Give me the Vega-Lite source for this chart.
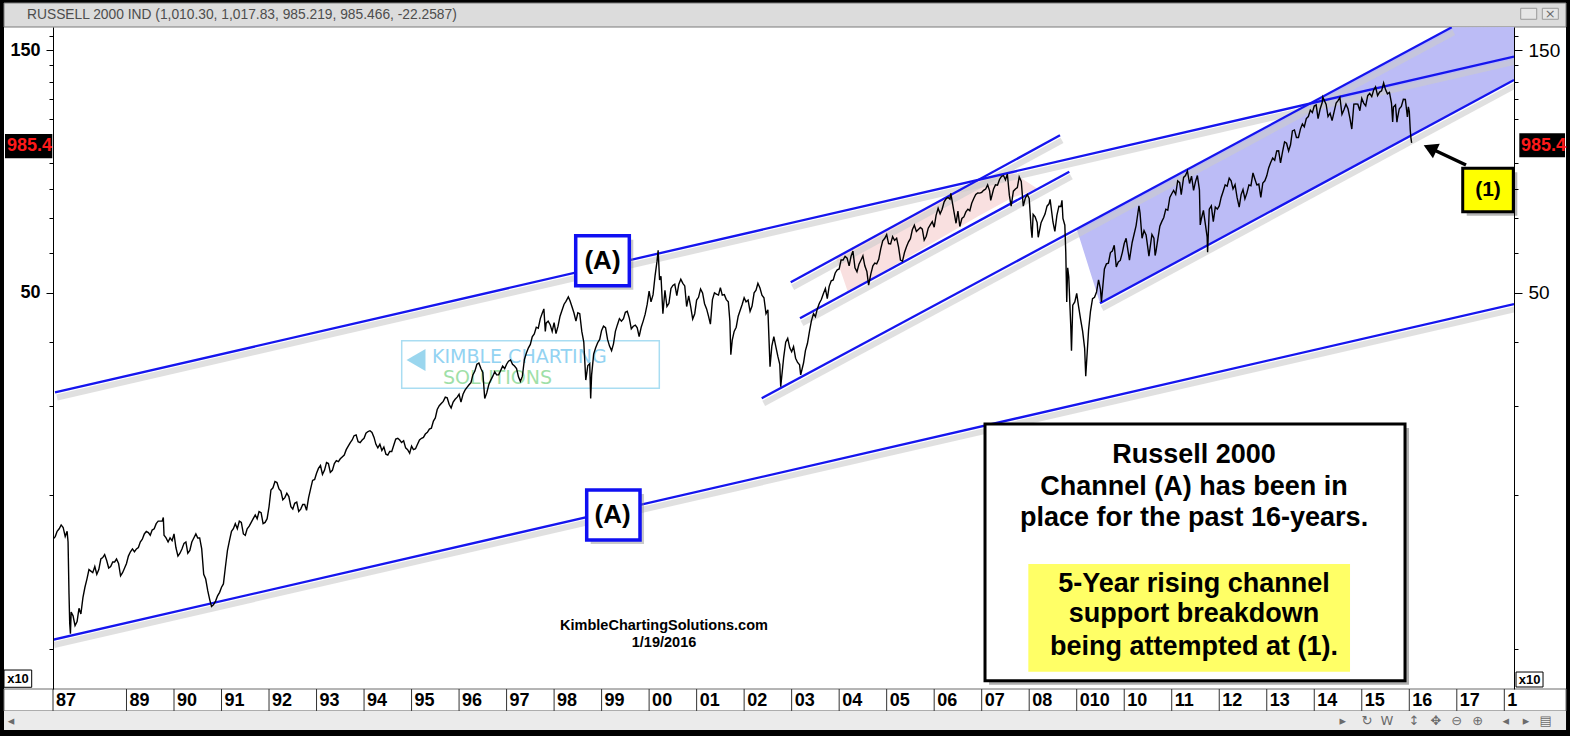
{
"$schema":"https://vega.github.io/schema/vega-lite/v6.json",
"autosize":{"type":"none"},
"width":1461,"height":662,
"padding":{"left":53,"top":27,"right":56,"bottom":47},
"background":"#000000",
"config":{"view":{"stroke":null},"axis":{"zindex":1,"grid":false}},
"datasets":{
"price":[
{"t":1987.45,"v":164},{"t":1987.5,"v":166},{"t":1987.54,"v":170},{"t":1987.583,"v":172},{"t":1987.625,"v":175},{"t":1987.667,"v":173},{"t":1987.71,"v":166},{"t":1987.75,"v":170},{"t":1987.77,"v":162},{"t":1987.79,"v":128},{"t":1987.805,"v":112},{"t":1987.82,"v":107},{"t":1987.835,"v":118},{"t":1987.875,"v":116},{"t":1987.917,"v":111},{"t":1987.96,"v":113},
{"t":1988.0,"v":120},{"t":1988.04,"v":117},{"t":1988.083,"v":126},{"t":1988.125,"v":132},{"t":1988.167,"v":137},{"t":1988.21,"v":143},{"t":1988.25,"v":142},{"t":1988.29,"v":141},{"t":1988.333,"v":145},{"t":1988.375,"v":140},{"t":1988.417,"v":143},{"t":1988.46,"v":150},{"t":1988.5,"v":151},{"t":1988.54,"v":153},{"t":1988.583,"v":149},{"t":1988.625,"v":144},{"t":1988.667,"v":145},{"t":1988.71,"v":148},{"t":1988.75,"v":148},{"t":1988.79,"v":150},{"t":1988.833,"v":147},{"t":1988.875,"v":139},{"t":1988.917,"v":141},{"t":1988.96,"v":144},
{"t":1989.0,"v":147},{"t":1989.04,"v":152},{"t":1989.083,"v":155},{"t":1989.125,"v":157},{"t":1989.167,"v":155},{"t":1989.21,"v":157},{"t":1989.25,"v":158},{"t":1989.29,"v":162},{"t":1989.333,"v":164},{"t":1989.375,"v":168},{"t":1989.417,"v":170},{"t":1989.46,"v":169},{"t":1989.5,"v":167},{"t":1989.54,"v":171},{"t":1989.583,"v":172},{"t":1989.625,"v":176},{"t":1989.667,"v":178},{"t":1989.71,"v":178},{"t":1989.75,"v":178},{"t":1989.775,"v":181},{"t":1989.79,"v":167},{"t":1989.833,"v":165},{"t":1989.875,"v":162},{"t":1989.917,"v":165},{"t":1989.96,"v":163},
{"t":1990.0,"v":168},{"t":1990.04,"v":158},{"t":1990.083,"v":152},{"t":1990.125,"v":154},{"t":1990.167,"v":157},{"t":1990.21,"v":161},{"t":1990.25,"v":162},{"t":1990.29,"v":154},{"t":1990.333,"v":156},{"t":1990.375,"v":162},{"t":1990.417,"v":165},{"t":1990.46,"v":168},{"t":1990.5,"v":165},{"t":1990.54,"v":165},{"t":1990.583,"v":157},{"t":1990.625,"v":140},{"t":1990.667,"v":137},{"t":1990.71,"v":130},{"t":1990.75,"v":125},{"t":1990.79,"v":121},{"t":1990.833,"v":122},{"t":1990.875,"v":124},{"t":1990.917,"v":127},{"t":1990.96,"v":129},
{"t":1991.0,"v":132},{"t":1991.04,"v":134},{"t":1991.083,"v":145},{"t":1991.125,"v":156},{"t":1991.167,"v":163},{"t":1991.21,"v":170},{"t":1991.25,"v":172},{"t":1991.29,"v":176},{"t":1991.333,"v":172},{"t":1991.375,"v":178},{"t":1991.417,"v":177},{"t":1991.46,"v":168},{"t":1991.5,"v":167},{"t":1991.54,"v":172},{"t":1991.583,"v":174},{"t":1991.625,"v":177},{"t":1991.667,"v":180},{"t":1991.71,"v":183},{"t":1991.75,"v":180},{"t":1991.79,"v":186},{"t":1991.833,"v":185},{"t":1991.875,"v":176},{"t":1991.917,"v":177},{"t":1991.96,"v":180},
{"t":1992.0,"v":190},{"t":1992.04,"v":205},{"t":1992.083,"v":207},{"t":1992.125,"v":213},{"t":1992.167,"v":212},{"t":1992.21,"v":206},{"t":1992.25,"v":204},{"t":1992.29,"v":196},{"t":1992.333,"v":198},{"t":1992.375,"v":202},{"t":1992.417,"v":199},{"t":1992.46,"v":190},{"t":1992.5,"v":188},{"t":1992.54,"v":193},{"t":1992.583,"v":194},{"t":1992.625,"v":186},{"t":1992.667,"v":188},{"t":1992.71,"v":192},{"t":1992.75,"v":192},{"t":1992.79,"v":187},{"t":1992.833,"v":198},{"t":1992.875,"v":206},{"t":1992.917,"v":214},{"t":1992.96,"v":215},
{"t":1993.0,"v":221},{"t":1993.04,"v":226},{"t":1993.083,"v":229},{"t":1993.125,"v":220},{"t":1993.167,"v":224},{"t":1993.21,"v":232},{"t":1993.25,"v":231},{"t":1993.29,"v":222},{"t":1993.333,"v":224},{"t":1993.375,"v":231},{"t":1993.417,"v":234},{"t":1993.46,"v":233},{"t":1993.5,"v":236},{"t":1993.54,"v":238},{"t":1993.583,"v":240},{"t":1993.625,"v":246},{"t":1993.667,"v":250},{"t":1993.71,"v":254},{"t":1993.75,"v":257},{"t":1993.79,"v":262},{"t":1993.833,"v":263},{"t":1993.875,"v":255},{"t":1993.917,"v":254},{"t":1993.96,"v":257},
{"t":1994.0,"v":259},{"t":1994.04,"v":265},{"t":1994.083,"v":267},{"t":1994.125,"v":268},{"t":1994.167,"v":266},{"t":1994.21,"v":260},{"t":1994.25,"v":252},{"t":1994.29,"v":248},{"t":1994.333,"v":252},{"t":1994.375,"v":245},{"t":1994.417,"v":249},{"t":1994.46,"v":241},{"t":1994.5,"v":240},{"t":1994.54,"v":244},{"t":1994.583,"v":244},{"t":1994.625,"v":251},{"t":1994.667,"v":258},{"t":1994.71,"v":259},{"t":1994.75,"v":257},{"t":1994.79,"v":254},{"t":1994.833,"v":256},{"t":1994.875,"v":248},{"t":1994.917,"v":246},{"t":1994.96,"v":242},
{"t":1995.0,"v":250},{"t":1995.04,"v":246},{"t":1995.083,"v":247},{"t":1995.125,"v":252},{"t":1995.167,"v":257},{"t":1995.21,"v":259},{"t":1995.25,"v":260},{"t":1995.29,"v":264},{"t":1995.333,"v":266},{"t":1995.375,"v":270},{"t":1995.417,"v":271},{"t":1995.46,"v":280},{"t":1995.5,"v":284},{"t":1995.54,"v":295},{"t":1995.583,"v":300},{"t":1995.625,"v":303},{"t":1995.667,"v":306},{"t":1995.71,"v":312},{"t":1995.75,"v":311},{"t":1995.79,"v":302},{"t":1995.833,"v":297},{"t":1995.875,"v":305},{"t":1995.917,"v":309},{"t":1995.96,"v":312},
{"t":1996.0,"v":316},{"t":1996.04,"v":305},{"t":1996.083,"v":316},{"t":1996.125,"v":322},{"t":1996.167,"v":326},{"t":1996.21,"v":330},{"t":1996.25,"v":333},{"t":1996.29,"v":345},{"t":1996.333,"v":351},{"t":1996.375,"v":362},{"t":1996.417,"v":364},{"t":1996.46,"v":355},{"t":1996.5,"v":349},{"t":1996.54,"v":310},{"t":1996.583,"v":318},{"t":1996.625,"v":330},{"t":1996.667,"v":337},{"t":1996.71,"v":343},{"t":1996.75,"v":350},{"t":1996.79,"v":345},{"t":1996.833,"v":345},{"t":1996.875,"v":352},{"t":1996.917,"v":359},{"t":1996.96,"v":355},
{"t":1997.0,"v":362},{"t":1997.04,"v":367},{"t":1997.083,"v":369},{"t":1997.125,"v":362},{"t":1997.167,"v":359},{"t":1997.21,"v":355},{"t":1997.25,"v":342},{"t":1997.29,"v":335},{"t":1997.333,"v":343},{"t":1997.375,"v":370},{"t":1997.417,"v":381},{"t":1997.46,"v":390},{"t":1997.5,"v":396},{"t":1997.54,"v":410},{"t":1997.583,"v":415},{"t":1997.625,"v":428},{"t":1997.667,"v":426},{"t":1997.71,"v":445},{"t":1997.75,"v":456},{"t":1997.785,"v":465},{"t":1997.815,"v":420},{"t":1997.833,"v":436},{"t":1997.875,"v":440},{"t":1997.917,"v":433},{"t":1997.96,"v":420},
{"t":1998.0,"v":437},{"t":1998.04,"v":416},{"t":1998.083,"v":430},{"t":1998.125,"v":450},{"t":1998.167,"v":462},{"t":1998.21,"v":475},{"t":1998.25,"v":481},{"t":1998.3,"v":491},{"t":1998.333,"v":483},{"t":1998.375,"v":470},{"t":1998.417,"v":457},{"t":1998.46,"v":440},{"t":1998.5,"v":457},{"t":1998.54,"v":455},{"t":1998.583,"v":420},{"t":1998.625,"v":400},{"t":1998.667,"v":337},{"t":1998.71,"v":360},{"t":1998.75,"v":363},{"t":1998.77,"v":310},{"t":1998.79,"v":345},{"t":1998.833,"v":379},{"t":1998.875,"v":390},{"t":1998.917,"v":399},{"t":1998.96,"v":405},
{"t":1999.0,"v":422},{"t":1999.04,"v":430},{"t":1999.083,"v":427},{"t":1999.125,"v":405},{"t":1999.167,"v":393},{"t":1999.21,"v":385},{"t":1999.25,"v":397},{"t":1999.29,"v":420},{"t":1999.333,"v":433},{"t":1999.375,"v":445},{"t":1999.417,"v":440},{"t":1999.46,"v":445},{"t":1999.5,"v":458},{"t":1999.54,"v":460},{"t":1999.583,"v":446},{"t":1999.625,"v":425},{"t":1999.667,"v":430},{"t":1999.71,"v":432},{"t":1999.75,"v":427},{"t":1999.79,"v":410},{"t":1999.833,"v":428},{"t":1999.875,"v":440},{"t":1999.917,"v":454},{"t":1999.96,"v":475},
{"t":2000.0,"v":504},{"t":2000.04,"v":480},{"t":2000.083,"v":496},{"t":2000.125,"v":540},{"t":2000.167,"v":577},{"t":2000.19,"v":606},{"t":2000.22,"v":530},{"t":2000.25,"v":539},{"t":2000.29,"v":455},{"t":2000.333,"v":506},{"t":2000.375,"v":470},{"t":2000.417,"v":477},{"t":2000.46,"v":510},{"t":2000.5,"v":517},{"t":2000.54,"v":520},{"t":2000.583,"v":494},{"t":2000.625,"v":520},{"t":2000.667,"v":532},{"t":2000.71,"v":522},{"t":2000.75,"v":516},{"t":2000.79,"v":470},{"t":2000.833,"v":493},{"t":2000.875,"v":470},{"t":2000.917,"v":444},{"t":2000.96,"v":455},
{"t":2001.0,"v":484},{"t":2001.04,"v":490},{"t":2001.083,"v":509},{"t":2001.125,"v":500},{"t":2001.167,"v":476},{"t":2001.21,"v":465},{"t":2001.25,"v":450},{"t":2001.29,"v":434},{"t":2001.333,"v":485},{"t":2001.375,"v":500},{"t":2001.417,"v":497},{"t":2001.46,"v":495},{"t":2001.5,"v":512},{"t":2001.54,"v":495},{"t":2001.583,"v":496},{"t":2001.625,"v":485},{"t":2001.667,"v":480},{"t":2001.7,"v":440},{"t":2001.72,"v":378},{"t":2001.75,"v":404},{"t":2001.79,"v":420},{"t":2001.833,"v":428},{"t":2001.875,"v":450},{"t":2001.917,"v":462},{"t":2001.96,"v":475},
{"t":2002.0,"v":489},{"t":2002.04,"v":480},{"t":2002.083,"v":484},{"t":2002.125,"v":460},{"t":2002.167,"v":471},{"t":2002.21,"v":500},{"t":2002.25,"v":506},{"t":2002.29,"v":522},{"t":2002.333,"v":511},{"t":2002.375,"v":495},{"t":2002.417,"v":489},{"t":2002.46,"v":455},{"t":2002.5,"v":463},{"t":2002.545,"v":358},{"t":2002.583,"v":393},{"t":2002.625,"v":410},{"t":2002.667,"v":392},{"t":2002.71,"v":375},{"t":2002.75,"v":362},{"t":2002.77,"v":327},{"t":2002.833,"v":374},{"t":2002.875,"v":400},{"t":2002.917,"v":407},{"t":2002.96,"v":390},
{"t":2003.0,"v":383},{"t":2003.04,"v":392},{"t":2003.083,"v":372},{"t":2003.125,"v":365},{"t":2003.167,"v":361},{"t":2003.19,"v":345},{"t":2003.25,"v":364},{"t":2003.29,"v":385},{"t":2003.333,"v":398},{"t":2003.375,"v":420},{"t":2003.417,"v":441},{"t":2003.46,"v":455},{"t":2003.5,"v":449},{"t":2003.54,"v":465},{"t":2003.583,"v":477},{"t":2003.625,"v":485},{"t":2003.667,"v":498},{"t":2003.71,"v":510},{"t":2003.75,"v":487},{"t":2003.79,"v":515},{"t":2003.833,"v":528},{"t":2003.875,"v":530},{"t":2003.917,"v":547},{"t":2003.96,"v":555},
{"t":2004.0,"v":557},{"t":2004.04,"v":580},{"t":2004.083,"v":580},{"t":2004.125,"v":590},{"t":2004.167,"v":585},{"t":2004.21,"v":565},{"t":2004.25,"v":590},{"t":2004.29,"v":604},{"t":2004.333,"v":560},{"t":2004.375,"v":550},{"t":2004.417,"v":569},{"t":2004.46,"v":580},{"t":2004.5,"v":591},{"t":2004.54,"v":565},{"t":2004.583,"v":551},{"t":2004.62,"v":518},{"t":2004.667,"v":545},{"t":2004.71,"v":565},{"t":2004.75,"v":572},{"t":2004.79,"v":570},{"t":2004.833,"v":582},{"t":2004.875,"v":610},{"t":2004.917,"v":633},{"t":2004.96,"v":640},
{"t":2005.0,"v":651},{"t":2005.04,"v":625},{"t":2005.083,"v":624},{"t":2005.125,"v":645},{"t":2005.167,"v":634},{"t":2005.21,"v":640},{"t":2005.25,"v":615},{"t":2005.29,"v":580},{"t":2005.333,"v":577},{"t":2005.375,"v":600},{"t":2005.417,"v":616},{"t":2005.46,"v":630},{"t":2005.5,"v":639},{"t":2005.54,"v":665},{"t":2005.583,"v":679},{"t":2005.625,"v":660},{"t":2005.667,"v":666},{"t":2005.71,"v":672},{"t":2005.75,"v":667},{"t":2005.79,"v":635},{"t":2005.833,"v":646},{"t":2005.875,"v":670},{"t":2005.917,"v":680},{"t":2005.96,"v":690},
{"t":2006.0,"v":673},{"t":2006.04,"v":710},{"t":2006.083,"v":733},{"t":2006.125,"v":715},{"t":2006.167,"v":730},{"t":2006.21,"v":755},{"t":2006.25,"v":765},{"t":2006.29,"v":770},{"t":2006.333,"v":764},{"t":2006.35,"v":784},{"t":2006.417,"v":721},{"t":2006.46,"v":685},{"t":2006.5,"v":724},{"t":2006.54,"v":675},{"t":2006.583,"v":700},{"t":2006.625,"v":705},{"t":2006.667,"v":721},{"t":2006.71,"v":730},{"t":2006.75,"v":725},{"t":2006.79,"v":750},{"t":2006.833,"v":766},{"t":2006.875,"v":780},{"t":2006.917,"v":786},{"t":2006.96,"v":785},
{"t":2007.0,"v":788},{"t":2007.04,"v":795},{"t":2007.083,"v":800},{"t":2007.125,"v":815},{"t":2007.167,"v":793},{"t":2007.19,"v":760},{"t":2007.25,"v":800},{"t":2007.29,"v":815},{"t":2007.333,"v":814},{"t":2007.375,"v":835},{"t":2007.417,"v":847},{"t":2007.46,"v":850},{"t":2007.5,"v":834},{"t":2007.54,"v":856},{"t":2007.583,"v":777},{"t":2007.62,"v":740},{"t":2007.667,"v":792},{"t":2007.71,"v":800},{"t":2007.75,"v":805},{"t":2007.79,"v":845},{"t":2007.833,"v":828},{"t":2007.875,"v":740},{"t":2007.917,"v":767},{"t":2007.96,"v":780},
{"t":2008.0,"v":766},{"t":2008.04,"v":670},{"t":2008.06,"v":642},{"t":2008.083,"v":713},{"t":2008.125,"v":705},{"t":2008.167,"v":687},{"t":2008.19,"v":643},{"t":2008.25,"v":687},{"t":2008.29,"v":700},{"t":2008.333,"v":714},{"t":2008.375,"v":740},{"t":2008.417,"v":748},{"t":2008.44,"v":763},{"t":2008.5,"v":689},{"t":2008.54,"v":660},{"t":2008.583,"v":710},{"t":2008.625,"v":740},{"t":2008.667,"v":739},{"t":2008.69,"v":760},{"t":2008.71,"v":700},{"t":2008.75,"v":679},{"t":2008.77,"v":600},{"t":2008.79,"v":480},{"t":2008.81,"v":560},{"t":2008.833,"v":537},{"t":2008.875,"v":430},{"t":2008.89,"v":385},{"t":2008.917,"v":473},{"t":2008.96,"v":480},
{"t":2009.0,"v":499},{"t":2009.04,"v":470},{"t":2009.083,"v":443},{"t":2009.125,"v":420},{"t":2009.167,"v":389},{"t":2009.19,"v":343},{"t":2009.25,"v":423},{"t":2009.29,"v":460},{"t":2009.333,"v":487},{"t":2009.375,"v":490},{"t":2009.417,"v":502},{"t":2009.46,"v":530},{"t":2009.5,"v":508},{"t":2009.52,"v":480},{"t":2009.583,"v":557},{"t":2009.625,"v":570},{"t":2009.667,"v":572},{"t":2009.71,"v":600},{"t":2009.75,"v":604},{"t":2009.79,"v":620},{"t":2009.833,"v":562},{"t":2009.875,"v":575},{"t":2009.917,"v":579},{"t":2009.96,"v":600},
{"t":2010.0,"v":625},{"t":2010.04,"v":640},{"t":2010.083,"v":602},{"t":2010.11,"v":580},{"t":2010.167,"v":628},{"t":2010.25,"v":678},{"t":2010.29,"v":720},{"t":2010.31,"v":741},{"t":2010.333,"v":717},{"t":2010.375,"v":640},{"t":2010.417,"v":663},{"t":2010.46,"v":650},{"t":2010.5,"v":610},{"t":2010.52,"v":590},{"t":2010.583,"v":651},{"t":2010.625,"v":640},{"t":2010.65,"v":592},{"t":2010.667,"v":602},{"t":2010.71,"v":640},{"t":2010.75,"v":676},{"t":2010.79,"v":690},{"t":2010.833,"v":703},{"t":2010.875,"v":730},{"t":2010.917,"v":727},{"t":2010.96,"v":770},
{"t":2011.0,"v":783},{"t":2011.04,"v":795},{"t":2011.083,"v":781},{"t":2011.125,"v":830},{"t":2011.167,"v":823},{"t":2011.2,"v":780},{"t":2011.25,"v":843},{"t":2011.29,"v":850},{"t":2011.33,"v":868},{"t":2011.375,"v":820},{"t":2011.417,"v":848},{"t":2011.46,"v":795},{"t":2011.5,"v":827},{"t":2011.54,"v":850},{"t":2011.583,"v":797},{"t":2011.6,"v":680},{"t":2011.625,"v":700},{"t":2011.667,"v":726},{"t":2011.71,"v":680},{"t":2011.745,"v":644},{"t":2011.755,"v":601},{"t":2011.79,"v":730},{"t":2011.833,"v":741},{"t":2011.875,"v":690},{"t":2011.917,"v":737},{"t":2011.96,"v":730},
{"t":2012.0,"v":741},{"t":2012.04,"v":770},{"t":2012.083,"v":792},{"t":2012.125,"v":815},{"t":2012.167,"v":810},{"t":2012.21,"v":840},{"t":2012.25,"v":830},{"t":2012.29,"v":800},{"t":2012.333,"v":816},{"t":2012.375,"v":770},{"t":2012.42,"v":737},{"t":2012.46,"v":780},{"t":2012.5,"v":798},{"t":2012.54,"v":765},{"t":2012.583,"v":786},{"t":2012.625,"v":815},{"t":2012.667,"v":812},{"t":2012.71,"v":860},{"t":2012.75,"v":837},{"t":2012.79,"v":815},{"t":2012.833,"v":818},{"t":2012.875,"v":770},{"t":2012.917,"v":822},{"t":2012.96,"v":830},
{"t":2013.0,"v":849},{"t":2013.04,"v":880},{"t":2013.083,"v":902},{"t":2013.125,"v":920},{"t":2013.167,"v":911},{"t":2013.21,"v":950},{"t":2013.25,"v":951},{"t":2013.29,"v":900},{"t":2013.333,"v":947},{"t":2013.375,"v":990},{"t":2013.417,"v":984},{"t":2013.46,"v":950},{"t":2013.5,"v":977},{"t":2013.54,"v":1040},{"t":2013.583,"v":1045},{"t":2013.625,"v":1010},{"t":2013.667,"v":1010},{"t":2013.71,"v":1050},{"t":2013.75,"v":1073},{"t":2013.79,"v":1060},{"t":2013.833,"v":1100},{"t":2013.875,"v":1110},{"t":2013.917,"v":1143},{"t":2013.96,"v":1130},
{"t":2014.0,"v":1164},{"t":2014.04,"v":1170},{"t":2014.08,"v":1100},{"t":2014.125,"v":1150},{"t":2014.167,"v":1183},{"t":2014.18,"v":1212},{"t":2014.25,"v":1173},{"t":2014.29,"v":1110},{"t":2014.333,"v":1127},{"t":2014.375,"v":1090},{"t":2014.417,"v":1134},{"t":2014.46,"v":1180},{"t":2014.5,"v":1193},{"t":2014.54,"v":1210},{"t":2014.583,"v":1121},{"t":2014.625,"v":1145},{"t":2014.667,"v":1174},{"t":2014.71,"v":1150},{"t":2014.75,"v":1102},{"t":2014.79,"v":1049},{"t":2014.833,"v":1174},{"t":2014.875,"v":1175},{"t":2014.917,"v":1174},{"t":2014.96,"v":1140},
{"t":2015.0,"v":1205},{"t":2015.04,"v":1180},{"t":2015.083,"v":1165},{"t":2015.125,"v":1220},{"t":2015.167,"v":1233},{"t":2015.21,"v":1215},{"t":2015.25,"v":1252},{"t":2015.29,"v":1270},{"t":2015.333,"v":1220},{"t":2015.375,"v":1240},{"t":2015.417,"v":1247},{"t":2015.46,"v":1292},{"t":2015.5,"v":1254},{"t":2015.54,"v":1230},{"t":2015.583,"v":1238},{"t":2015.625,"v":1180},{"t":2015.65,"v":1083},{"t":2015.667,"v":1159},{"t":2015.71,"v":1170},{"t":2015.74,"v":1082},{"t":2015.75,"v":1100},{"t":2015.79,"v":1150},{"t":2015.833,"v":1162},{"t":2015.875,"v":1200},{"t":2015.917,"v":1199},{"t":2015.94,"v":1150},{"t":2015.96,"v":1108},{"t":2015.98,"v":1160},
{"t":2016.0,"v":1136},{"t":2016.02,"v":1046},{"t":2016.035,"v":1007},{"t":2016.05,"v":985.47}
],
"years":[
{"t":1987.453,"label":"87","v":83.31,"v2":75.43},{"t":1989,"label":"89","v":83.31,"v2":75.43},{"t":1990,"label":"90","v":83.31,"v2":75.43},{"t":1991,"label":"91","v":83.31,"v2":75.43},{"t":1992,"label":"92","v":83.31,"v2":75.43},{"t":1993,"label":"93","v":83.31,"v2":75.43},{"t":1994,"label":"94","v":83.31,"v2":75.43},{"t":1995,"label":"95","v":83.31,"v2":75.43},{"t":1996,"label":"96","v":83.31,"v2":75.43},{"t":1997,"label":"97","v":83.31,"v2":75.43},{"t":1998,"label":"98","v":83.31,"v2":75.43},{"t":1999,"label":"99","v":83.31,"v2":75.43},{"t":2000,"label":"00","v":83.31,"v2":75.43},{"t":2001,"label":"01","v":83.31,"v2":75.43},{"t":2002,"label":"02","v":83.31,"v2":75.43},{"t":2003,"label":"03","v":83.31,"v2":75.43},{"t":2004,"label":"04","v":83.31,"v2":75.43},{"t":2005,"label":"05","v":83.31,"v2":75.43},{"t":2006,"label":"06","v":83.31,"v2":75.43},{"t":2007,"label":"07","v":83.31,"v2":75.43},{"t":2008,"label":"08","v":83.31,"v2":75.43},{"t":2009,"label":"010","v":83.31,"v2":75.43},{"t":2010,"label":"10","v":83.31,"v2":75.43},{"t":2011,"label":"11","v":83.31,"v2":75.43},{"t":2012,"label":"12","v":83.31,"v2":75.43},{"t":2013,"label":"13","v":83.31,"v2":75.43},{"t":2014,"label":"14","v":83.31,"v2":75.43},{"t":2015,"label":"15","v":83.31,"v2":75.43},{"t":2016,"label":"16","v":83.31,"v2":75.43},{"t":2017,"label":"17","v":83.31,"v2":75.43},{"t":2018,"label":"1","v":83.31,"v2":75.43}
],
"inner":[{"t":1986.4216,"t2":2019.2989,"v":1855.4,"v2":69.21}],
"header":[{"t":1986.4216,"t2":2019.2989,"v":1855.4,"v2":1664.5}],
"band":[{"t":1986.4216,"t2":2019.2989,"v":83.31,"v2":75.43}],
"scroll":[{"t":1986.4216,"t2":2019.2989,"v":75.43,"v2":69.21}],
"buttons":[{"t":2018.3454,"t2":2018.6821,"v":1811.5,"v2":1723.7},{"t":2018.8,"t2":2019.1368,"v":1811.5,"v2":1723.7}],
"blueShade":[{"t":2009.0,"v":667.8,"v2":667.8},{"t":2009.4904,"v":706.6,"v2":476.9},{"t":2016.8931,"v":1662.2,"v2":1124.7},{"t":2018.2044,"v":1664.5,"v2":1309.6}],
"pinkShade":[{"t":2003.9337,"v":586.5,"v2":586.5},{"t":2004.1863,"v":603.9,"v2":501.5},{"t":2006.9267,"v":833.3,"v2":707.3},{"t":2007.6382,"v":863.3,"v2":768.6},{"t":2008.1854,"v":800.1,"v2":800.1}],
"channels":[
{"id":"A upper","t":1987.4951,"v":318.6},{"id":"A upper","t":2018.2044,"v":1456.5},
{"id":"A lower","t":1987.4319,"v":103.98},{"id":"A lower","t":2018.2044,"v":475.4},
{"id":"rising upper","t":2002.3698,"v":310.3},{"id":"rising upper","t":2016.8931,"v":1662.2},
{"id":"rising lower","t":2009.4904,"v":476.9},{"id":"rising lower","t":2018.2044,"v":1309.6},
{"id":"2003-07 upper","t":2002.9802,"v":524.5},{"id":"2003-07 upper","t":2008.6485,"v":1019.8},
{"id":"2003-07 lower","t":2003.176,"v":445.6},{"id":"2003-07 lower","t":2008.8442,"v":864.9}
],
"aBoxes":[{"t":1998.4549,"t2":1999.5831,"v":647.5,"v2":516.5},{"t":1998.6864,"t2":1999.8083,"v":204.95,"v2":163.5}],
"aLabels":[{"t":1999.0189,"v":577.5,"label":"(A)"},{"t":1999.23,"v":183.0,"label":"(A)"}],
"noteBox":[{"t":2007.0699,"t2":2015.9101,"v":276.3,"v2":86.49}],
"noteHighlight":[{"t":2007.9813,"t2":2014.7525,"v":146.6,"v2":90.08}],
"noteText":[
{"t":2011.47,"v":240.1,"label":"Russell 2000"},
{"t":2011.47,"v":207.5,"label":"Channel (A) has been in"},
{"t":2011.47,"v":180.3,"label":"place for the past 16-years."},
{"t":2011.47,"v":133.9,"label":"5-Year rising channel"},
{"t":2011.47,"v":117.0,"label":"support breakdown"},
{"t":2011.47,"v":100.6,"label":"being attempted at (1)."}
],
"marker1Box":[{"t":2017.1246,"t2":2018.1896,"v":878.3,"v2":721.9}],
"marker1Text":[{"t":2017.6571,"v":796.2,"label":"(1)"}],
"arrow":[{"t":2017.1941,"v":891.5,"t2":2016.4785,"v2":958.5}],
"arrowHead":[{"t":2016.4364,"v":962.4}],
"webText":[{"t":2000.3134,"v":110.9,"label":"KimbleChartingSolutions.com"},{"t":2000.3134,"v":102.7,"label":"1/19/2016"}],
"logoBox":[{"t":1994.7925,"t2":2000.2145,"v":402.7,"v2":324.7}],
"logoMark":[{"t":1995.0934,"v":369.0}],
"logoText1":[{"t":1995.4302,"v":373.5,"label":"KIMBLE CHARTING"}],
"logoText2":[{"t":1995.6618,"v":340.0,"label":"SOLUTIONS"}],
"lastBoxes":[{"t":1986.4426,"t2":1987.4382,"v":1025.8,"v2":918.9},{"t":2018.3159,"t2":2019.2778,"v":1029.1,"v2":923.1}],
"lastText":[{"t":1986.4847,"v":971.5,"label":"985.4"},{"t":2018.3517,"v":973.7,"label":"985.4"}],
"x10Boxes":[{"t":1986.4216,"t2":1987.0046,"v":90.78,"v2":83.96},{"t":2018.2465,"t2":2018.8148,"v":89.96,"v2":84.07}],
"x10Text":[{"t":1986.7163,"v":87.15,"label":"x10"},{"t":2018.5306,"v":86.95,"label":"x10"}],
"headerText":[{"t":1986.9057,"v":1757.6,"label":"RUSSELL 2000 IND (1,010.30, 1,017.83, 985.219, 985.466, -22.2587)"}],
"icons":[
{"t":2018.9684,"v":1767.2,"label":"×"},
{"t":1986.5689,"v":72.09,"label":"◂"},
{"t":2014.5989,"v":72.09,"label":"▸"},
{"t":2015.1104,"v":72.09,"label":"↻"},
{"t":2015.5314,"v":72.09,"label":"W"},
{"t":2016.0998,"v":72.09,"label":"↕"},
{"t":2016.5628,"v":72.09,"label":"✥"},
{"t":2016.9985,"v":72.09,"label":"⊖"},
{"t":2017.4426,"v":72.09,"label":"⊕"},
{"t":2018.032,"v":72.09,"label":"◂"},
{"t":2018.4572,"v":72.09,"label":"▸"},
{"t":2018.8695,"v":72.09,"label":"▤"}
]
},
"resolve":{"scale":{"y":"independent"}},
"layer":[
{
"encoding":{
"x":{"field":"t","type":"quantitative","scale":{"domain":[1987.453,2018.204],"nice":false,"zero":false},"axis":null},
"y":{"field":"v","type":"quantitative","scale":{"type":"log","domain":[83.31,1664.5],"nice":false,"zero":false},
"axis":{"orient":"left","values":[100,200,300,400,500,600,700,800,900,1100,1200,1300,1400,1500,1600],
"labelExpr":"datum.value == 1500 ? '150' : datum.value == 500 ? '50' : ''",
"title":null,"grid":false,"domainColor":"#000000","tickColor":"#000000",
"tickSize":{"condition":{"test":"datum.value == 500 || datum.value == 1500","value":7},"value":4},
"labelPadding":6,"labelFont":"Liberation Sans, Arial, Helvetica, sans-serif","labelFontSize":18,"labelFontWeight":"bold","labelColor":"#000000","labelBaseline":"middle","labelOverlap":false,"labelBound":false,"labelFlush":false,"zindex":1}}
},
"layer":[
{"data":{"name":"inner"},"mark":{"type":"rect","fill":"#ffffff"},"encoding":{"x2":{"field":"t2"},"y2":{"field":"v2"}}},
{"data":{"name":"header"},"mark":{"type":"rect","fill":"#dcdcdc","stroke":"#7a7a7a","strokeWidth":1},"encoding":{"x2":{"field":"t2"},"y2":{"field":"v2"}}},
{"data":{"name":"band"},"mark":{"type":"rect","fill":"#ffffff","stroke":"#6a6a6a","strokeWidth":1},"encoding":{"x2":{"field":"t2"},"y2":{"field":"v2"}}},
{"data":{"name":"scroll"},"mark":{"type":"rect","fill":"#ebebeb"},"encoding":{"x2":{"field":"t2"},"y2":{"field":"v2"}}},
{"data":{"name":"buttons"},"mark":{"type":"rect","fill":"#e6e6e6","stroke":"#9a9a9a","strokeWidth":1},"encoding":{"x2":{"field":"t2"},"y2":{"field":"v2"}}},
{"data":{"name":"years"},"mark":{"type":"rule","stroke":"#333333","strokeWidth":1},"encoding":{"y2":{"field":"v2"}}},
{"data":{"name":"years"},"mark":{"type":"text","align":"left","baseline":"middle","dx":3,"dy":12,"font":"Liberation Sans, Arial, Helvetica, sans-serif","fontSize":18,"fontWeight":"bold","fill":"#000000"},"encoding":{"text":{"field":"label"}}},
{"data":{"name":"blueShade"},"mark":{"type":"area","fill":"#bcbcf6","opacity":1,"clip":true},"encoding":{"y2":{"field":"v2"}}},
{"data":{"name":"pinkShade"},"mark":{"type":"area","fill":"#f9e0e0","opacity":1,"clip":true},"encoding":{"y2":{"field":"v2"}}},
{"data":{"name":"logoBox"},"mark":{"type":"rect","fill":"#ffffff","fillOpacity":0,"stroke":"#a9ddf2","strokeWidth":1.5},"encoding":{"x2":{"field":"t2"},"y2":{"field":"v2"}}},
{"data":{"name":"logoMark"},"mark":{"type":"point","shape":"triangle-left","filled":true,"fill":"#8fd1ec","opacity":0.9,"size":480}},
{"data":{"name":"logoText1"},"mark":{"type":"text","align":"left","baseline":"middle","font":"DejaVu Sans, Verdana, sans-serif","fontSize":19,"fill":"#93d3f2"},"encoding":{"text":{"field":"label"}}},
{"data":{"name":"logoText2"},"mark":{"type":"text","align":"left","baseline":"middle","font":"DejaVu Sans, Verdana, sans-serif","fontSize":19,"fill":"#9fe0a8"},"encoding":{"text":{"field":"label"}}},
{"data":{"name":"channels"},"mark":{"type":"line","stroke":"#cccccc","strokeWidth":6,"opacity":0.6,"xOffset":2,"yOffset":5,"clip":true},"encoding":{"detail":{"field":"id"}}},
{"data":{"name":"channels"},"mark":{"type":"line","stroke":"#1515ee","strokeWidth":2.3,"clip":true},"encoding":{"detail":{"field":"id"}}},
{"data":{"name":"price"},"mark":{"type":"line","stroke":"#000000","strokeWidth":1.4,"clip":true}},
{"data":{"name":"aBoxes"},"mark":{"type":"rect","fill":"#8a8a8a","opacity":0.45,"xOffset":4,"x2Offset":4,"yOffset":4,"y2Offset":4},"encoding":{"x2":{"field":"t2"},"y2":{"field":"v2"}}},
{"data":{"name":"aBoxes"},"mark":{"type":"rect","fill":"#ffffff","stroke":"#1010f2","strokeWidth":3.5},"encoding":{"x2":{"field":"t2"},"y2":{"field":"v2"}}},
{"data":{"name":"aLabels"},"mark":{"type":"text","align":"center","baseline":"middle","font":"Liberation Sans, Arial, Helvetica, sans-serif","fontSize":26,"fontWeight":"bold","fill":"#000000"},"encoding":{"text":{"field":"label"}}},
{"data":{"name":"noteBox"},"mark":{"type":"rect","fill":"#6e6e6e","opacity":0.55,"xOffset":4,"x2Offset":4,"yOffset":4,"y2Offset":4},"encoding":{"x2":{"field":"t2"},"y2":{"field":"v2"}}},
{"data":{"name":"noteBox"},"mark":{"type":"rect","fill":"#ffffff","stroke":"#000000","strokeWidth":3},"encoding":{"x2":{"field":"t2"},"y2":{"field":"v2"}}},
{"data":{"name":"noteHighlight"},"mark":{"type":"rect","fill":"#ffff66"},"encoding":{"x2":{"field":"t2"},"y2":{"field":"v2"}}},
{"data":{"name":"noteText"},"mark":{"type":"text","align":"center","baseline":"middle","font":"Liberation Sans, Arial, Helvetica, sans-serif","fontSize":27,"fontWeight":"bold","fill":"#000000"},"encoding":{"text":{"field":"label"}}},
{"data":{"name":"marker1Box"},"mark":{"type":"rect","fill":"#6e6e6e","opacity":0.5,"xOffset":4,"x2Offset":4,"yOffset":4,"y2Offset":4},"encoding":{"x2":{"field":"t2"},"y2":{"field":"v2"}}},
{"data":{"name":"marker1Box"},"mark":{"type":"rect","fill":"#ffff00","stroke":"#000000","strokeWidth":3},"encoding":{"x2":{"field":"t2"},"y2":{"field":"v2"}}},
{"data":{"name":"marker1Text"},"mark":{"type":"text","align":"center","baseline":"middle","font":"Liberation Sans, Arial, Helvetica, sans-serif","fontSize":21,"fontWeight":"bold","fill":"#000000"},"encoding":{"text":{"field":"label"}}},
{"data":{"name":"arrow"},"mark":{"type":"rule","stroke":"#000000","strokeWidth":3.5},"encoding":{"x2":{"field":"t2"},"y2":{"field":"v2"}}},
{"data":{"name":"arrowHead"},"mark":{"type":"point","shape":"triangle-up","angle":295,"filled":true,"fill":"#000000","opacity":1,"size":260}},
{"data":{"name":"webText"},"mark":{"type":"text","align":"center","baseline":"middle","font":"Liberation Sans, Arial, Helvetica, sans-serif","fontSize":14.5,"fontWeight":"bold","fill":"#000000"},"encoding":{"text":{"field":"label"}}},
{"data":{"name":"lastBoxes"},"mark":{"type":"rect","fill":"#000000"},"encoding":{"x2":{"field":"t2"},"y2":{"field":"v2"}}},
{"data":{"name":"lastText"},"mark":{"type":"text","align":"left","baseline":"middle","font":"Liberation Sans, Arial, Helvetica, sans-serif","fontSize":18,"fontWeight":"bold","fill":"#ff1a1a"},"encoding":{"text":{"field":"label"}}},
{"data":{"name":"x10Boxes"},"mark":{"type":"rect","fill":"#ffffff","stroke":"#000000","strokeWidth":1},"encoding":{"x2":{"field":"t2"},"y2":{"field":"v2"}}},
{"data":{"name":"x10Text"},"mark":{"type":"text","align":"center","baseline":"middle","font":"Liberation Sans, Arial, Helvetica, sans-serif","fontSize":13,"fontWeight":"bold","fill":"#000000"},"encoding":{"text":{"field":"label"}}},
{"data":{"name":"headerText"},"mark":{"type":"text","align":"left","baseline":"middle","font":"Liberation Sans, Arial, Helvetica, sans-serif","fontSize":13.8,"fill":"#4d4d4d"},"encoding":{"text":{"field":"label"}}},
{"data":{"name":"icons"},"mark":{"type":"text","align":"center","baseline":"middle","font":"DejaVu Sans, sans-serif","fontSize":13,"fill":"#6b6b6b"},"encoding":{"text":{"field":"label"}}}
]
},
{
"data":{"name":"lastText"},
"mark":{"type":"point","opacity":0},
"encoding":{
"x":{"field":"t","type":"quantitative","scale":{"domain":[1987.453,2018.204],"nice":false,"zero":false},"axis":null},
"y":{"field":"v","type":"quantitative","scale":{"type":"log","domain":[83.31,1664.5],"nice":false,"zero":false},
"axis":{"orient":"right","values":[100,200,300,400,500,600,700,800,900,1100,1200,1300,1400,1500,1600],
"labelExpr":"datum.value == 1500 ? '150' : datum.value == 500 ? '50' : ''",
"title":null,"grid":false,"domainColor":"#000000","tickColor":"#000000",
"tickSize":{"condition":{"test":"datum.value == 500 || datum.value == 1500","value":8},"value":4},
"labelPadding":6,"labelFont":"Liberation Sans, Arial, Helvetica, sans-serif","labelFontSize":19,"labelFontWeight":"normal","labelColor":"#000000","labelBaseline":"middle","labelOverlap":false,"labelBound":false,"labelFlush":false,"zindex":1}}
}
}
]
}
